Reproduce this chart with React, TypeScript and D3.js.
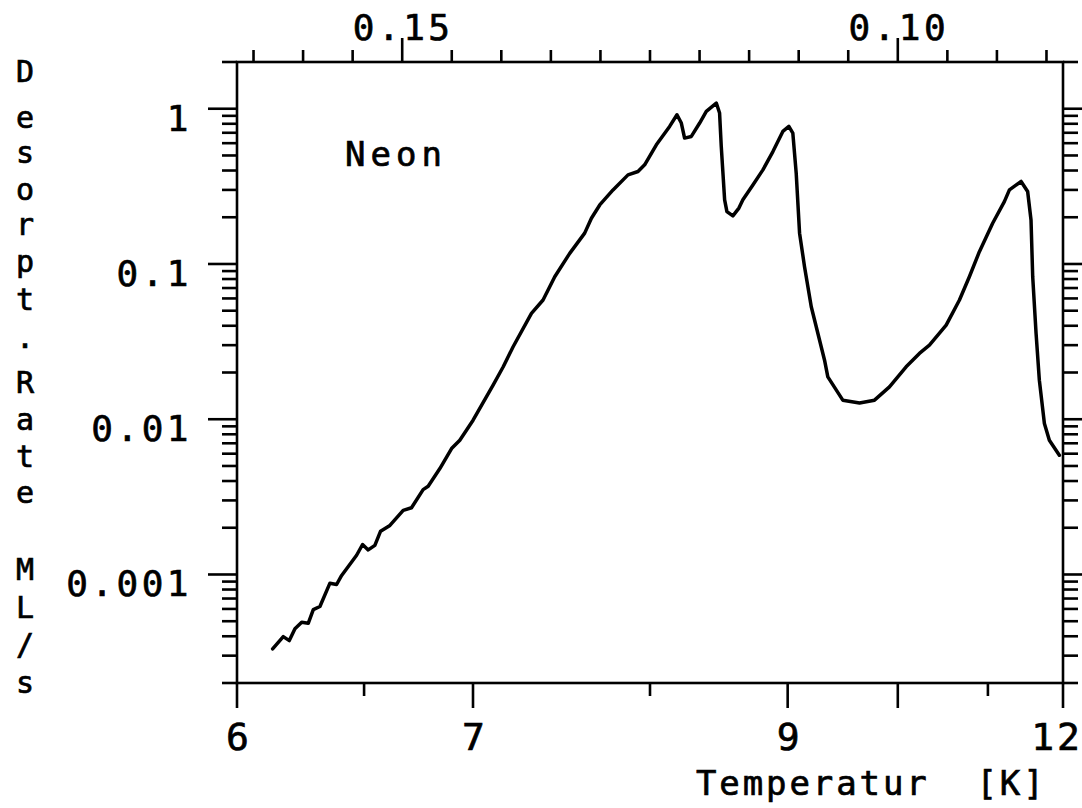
import React from "react";
import * as d3 from "d3";

// Curve data: inverse temperature (1/K) and desorption rate (ML/s)
const inverseTemperature = [
  0.16307, 0.162, 0.16139, 0.16082, 0.16014, 0.15948, 0.15897, 0.1583, 0.15729, 0.15662,
  0.15611, 0.1546, 0.154, 0.15343, 0.15276, 0.15218, 0.15124, 0.1499, 0.14906, 0.14789,
  0.14738, 0.1462, 0.14502, 0.14419, 0.14285, 0.14083, 0.13982, 0.13881, 0.13696, 0.13579,
  0.13461, 0.1331, 0.13159, 0.13091, 0.13007, 0.12873, 0.12722, 0.12621, 0.12554, 0.12436,
  0.12302, 0.12228, 0.12184, 0.12151, 0.12083, 0.11999, 0.11932, 0.11831, 0.11798, 0.11781,
  0.11747, 0.11724, 0.11664, 0.11603, 0.11563, 0.11462, 0.11361, 0.1126, 0.1116, 0.11099,
  0.11059, 0.11025, 0.10991, 0.10941, 0.10873, 0.10739, 0.10706, 0.10555, 0.10386, 0.10235,
  0.10084, 0.09916, 0.09782, 0.09681, 0.09512, 0.09378, 0.09278, 0.09177, 0.09043, 0.08925,
  0.08874, 0.08756, 0.0869, 0.08656, 0.08639, 0.08605, 0.08572, 0.08521, 0.08471, 0.0837,
];
const desorptionRate = [
  3.32e-4, 3.98e-4, 3.75e-4, 4.47e-4, 4.92e-4, 4.85e-4, 5.94e-4, 6.22e-4, 8.79e-4, 8.62e-4,
  9.86e-4, 1.33e-3, 1.56e-3, 1.44e-3, 1.54e-3, 1.9e-3, 2.07e-3, 2.59e-3, 2.69e-3, 3.52e-3,
  3.7e-3, 4.81e-3, 6.47e-3, 7.32e-3, 9.86e-3, 1.66e-2, 2.17e-2, 2.93e-2, 4.81e-2, 5.86e-2,
  8.28e-2, 0.117, 0.158, 0.197, 0.24, 0.3, 0.375, 0.394, 0.435, 0.586,
  0.769, 0.915, 0.809, 0.647, 0.663, 0.809, 0.961, 1.088, 0.938, 0.571,
  0.259, 0.2176, 0.204, 0.229, 0.259, 0.323, 0.404, 0.53, 0.714, 0.769,
  0.697, 0.385, 0.158, 0.0961, 0.053, 0.024, 0.01875, 0.01327, 0.01274, 0.01327,
  0.01616, 0.02175, 0.02655, 0.03, 0.0404, 0.0586, 0.0828, 0.12, 0.183, 0.252,
  0.3, 0.34, 0.293, 0.192, 0.0828, 0.0357, 0.01786, 0.00938, 0.00732, 0.00586,
];

// Axis ticks
const bottomMajorTicks = [6, 7, 9, 10, 12];
const bottomMinorTicks = [6.5, 8, 11];
const bottomLabels = ["6", "7", "9", "12"];
const topMinorTicks = [
  0.165, 0.16, 0.155, 0.145, 0.14, 0.135, 0.13, 0.125, 0.12, 0.115, 0.11, 0.105, 0.095, 0.09, 0.085,
];
const topMajorTicks = [0.15, 0.1];
const topLabels = ["0.15", "0.10"];
const yLabelValues = [0.001, 0.01, 0.1, 1];
const yLabels = ["0.001", "0.01", "0.1", "1"];
const yTitleChars = ["D", "e", "s", "o", "r", "p", "t", ".", "R", "a", "t", "e", "M", "L", "/", "s"];
const seriesLabel = "Neon";
const xTitle = "Temperatur  [K]";

export default function App() {
  const W = 1082;
  const H = 808;
  const L = 237, R = 1063, T = 62, B = 683;
  const x = d3.scaleLinear().domain([1 / 6, 1 / 12]).range([L, R]);
  const y = d3.scaleLog().domain([2e-4, 2]).range([B, T]);
  const yTicks = y.ticks();
  const isMajor = (v: number) => Math.abs(Math.log10(v) - Math.round(Math.log10(v))) < 1e-6;

  const pts = inverseTemperature.map((v, i) => [v, desorptionRate[i]] as [number, number]);
  const line = d3
    .line<[number, number]>()
    .x((d) => x(d[0]))
    .y((d) => y(d[1]));

  const font = "'DejaVu Sans Mono', monospace";
  const sw = 2.6;
  const ts = { stroke: "#000", strokeWidth: 0.7 };
  const titleBaselines = [82, 128, 163, 200, 235, 272, 310, 348, 393, 430, 467, 503, 580, 618, 655, 693];

  return (
    <svg
      width={W}
      height={H}
      style={{ position: "absolute", left: 0, top: 0, background: "#fff" }}
      fontFamily={font}
    >
      <rect x={0} y={0} width={W} height={H} fill="#fff" />
      {/* frame */}
      <rect x={L} y={T} width={R - L} height={B - T} fill="none" stroke="#000" strokeWidth={sw} />

      {/* left & right y ticks */}
      {yTicks.map((v, i) => {
        const yy = y(v);
        const maj = isMajor(v);
        return (
          <g key={"y" + i}>
            <line x1={L - (maj ? 29 : 15)} x2={L} y1={yy} y2={yy} stroke="#000" strokeWidth={sw} />
            <line x1={R} x2={R + (maj ? 22 : 15)} y1={yy} y2={yy} stroke="#000" strokeWidth={sw} />
          </g>
        );
      })}
      {yLabelValues.map((v, i) => (
        <text
          key={"yl" + i}
          x={192}
          y={y(v) + 22}
          textAnchor="end"
          fontSize={36}
          letterSpacing={3.5}
          fill="#000"
          {...ts}
        >
          {yLabels[i]}
        </text>
      ))}

      {/* bottom ticks */}
      {bottomMajorTicks.map((t, i) => (
        <line key={"bM" + i} x1={x(1 / t)} x2={x(1 / t)} y1={B} y2={B + 25} stroke="#000" strokeWidth={sw} />
      ))}
      {bottomMinorTicks.map((t, i) => (
        <line key={"bm" + i} x1={x(1 / t)} x2={x(1 / t)} y1={B} y2={B + 13} stroke="#000" strokeWidth={sw} />
      ))}
      {bottomLabels.map((s, i) => {
        const last = i === bottomLabels.length - 1;
        return (
          <text
            key={"bl" + i}
            x={last ? 1080 + 3 : x(1 / +s) + 2}
            y={750}
            textAnchor={last ? "end" : "middle"}
            fontSize={38}
            letterSpacing={3}
            fill="#000"
            {...ts}
          >
            {s}
          </text>
        );
      })}

      {/* top ticks */}
      {topMinorTicks.map((v, i) => (
        <line key={"tm" + i} x1={x(v)} x2={x(v)} y1={T} y2={T - 12} stroke="#000" strokeWidth={sw} />
      ))}
      {topMajorTicks.map((v, i) => (
        <line key={"tM" + i} x1={x(v)} x2={x(v)} y1={T} y2={T - 24} stroke="#000" strokeWidth={sw} />
      ))}
      {topMajorTicks.map((v, i) => (
        <text
          key={"tl" + i}
          x={x(v) + 1}
          y={40}
          textAnchor="middle"
          fontSize={36}
          letterSpacing={3.5}
          fill="#000"
          {...ts}
        >
          {topLabels[i]}
        </text>
      ))}

      {/* curve */}
      <path d={line(pts) || ""} fill="none" stroke="#000" strokeWidth={3.5} strokeLinejoin="round" strokeLinecap="round" />

      {/* series label */}
      <text x={345} y={166} fontSize={34} letterSpacing={5} fill="#000" {...ts}>
        {seriesLabel}
      </text>

      {/* x title */}
      <text x={696} y={795} fontSize={34} letterSpacing={2.9} fill="#000" xmlSpace="preserve" style={{ whiteSpace: "pre" }} {...ts}>
        {xTitle}
      </text>

      {/* y title (vertical stacked characters) */}
      {yTitleChars.map((c, i) => (
        <text key={"yt" + i} x={25} y={titleBaselines[i]} textAnchor="middle" fontSize={30} fill="#000" {...ts}>
          {c}
        </text>
      ))}
    </svg>
  );
}
